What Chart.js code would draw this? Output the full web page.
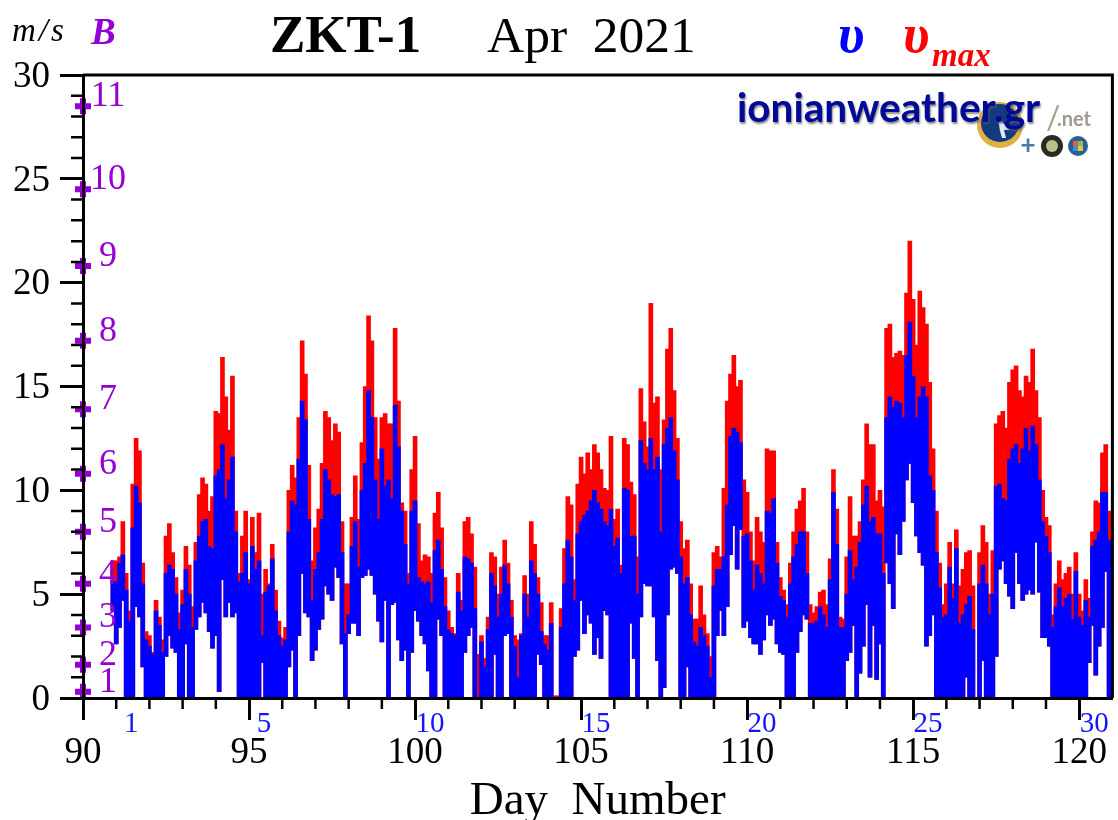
<!DOCTYPE html>
<html>
<head>
<meta charset="utf-8">
<title>ZKT-1 Apr 2021</title>
<script src="https://cdn.jsdelivr.net/npm/chart.js@4/dist/chart.umd.min.js"></script>
<style>
    html, body { margin: 0; padding: 0; background: #fff; }
    canvas { display: block; }
</style>
</head>
<body>
<canvas id="windChart" width="1118" height="820"></canvas>
<script>
// Samples are 0.1 day apart, first one at day 90.9. One row per day.
const firstDay = 90.9;
const sampleStep = 0.1;

// Highest gust in each sample (m/s)
const vmaxTop = [
    6.6,
    6.6, 6.8, 8.5, 6.0, 4.2, 10.3, 12.5, 11.9, 6.5, 3.2,
    3.0, 2.2, 4.7, 3.9, 2.8, 7.8, 8.4, 7.0, 5.8, 4.1,
    5.2, 7.3, 6.4, 4.4, 7.5, 9.8, 10.6, 10.3, 9.0, 9.7,
    13.8, 13.7, 16.4, 14.5, 12.9, 15.5, 9.0, 6.0, 7.8, 9.0,
    5.7, 8.7, 7.0, 8.9, 5.0, 6.2, 5.5, 7.4, 5.2, 3.7,
    2.9, 3.4, 10.0, 11.2, 10.6, 13.5, 17.2, 15.6, 11.2, 6.6,
    8.2, 9.1, 11.3, 13.8, 13.5, 12.4, 13.2, 12.8, 8.5, 5.5,
    5.5, 8.7, 10.7, 8.6, 12.3, 15.0, 18.4, 17.2, 13.5, 11.5,
    13.5, 13.7, 13.2, 13.2, 17.8, 14.3, 9.4, 9.0, 6.0, 11.0,
    12.6, 8.4, 6.6, 6.9, 6.8, 6.0, 8.9, 9.9, 8.2, 5.8,
    4.2, 3.4, 3.1, 6.0, 4.7, 8.5, 8.7, 7.9, 6.3, 2.1,
    3.0, 1.9, 3.9, 7.0, 6.8, 5.0, 6.3, 7.6, 6.5, 4.7,
    3.0, 2.8, 3.1, 5.9, 5.0, 8.5, 7.4, 5.8, 4.6, 3.0,
    3.0, 4.6, 0.1, 0.1, 4.3, 7.2, 9.7, 9.3, 5.7, 10.3,
    11.6, 10.8, 11.8, 11.0, 12.2, 11.8, 11.0, 10.1, 10.0, 12.6,
    8.6, 9.1, 6.4, 12.5, 12.2, 10.4, 9.8, 6.8, 14.9, 13.3,
    12.1, 19.0, 14.2, 14.5, 11.0, 13.4, 16.8, 17.8, 14.8, 12.5,
    8.5, 7.2, 7.6, 5.5, 3.8, 3.8, 5.4, 4.0, 3.1, 2.0,
    7.0, 7.3, 6.8, 10.1, 14.3, 15.6, 16.5, 15.0, 15.3, 10.5,
    9.9, 8.0, 6.6, 8.7, 8.0, 7.5, 12.0, 11.9, 11.9, 7.5,
    5.8, 5.2, 4.5, 6.5, 8.0, 9.1, 9.5, 10.1, 8.0, 4.5,
    4.1, 4.4, 5.1, 5.2, 4.5, 6.7, 11.0, 9.1, 3.9, 3.8,
    6.8, 9.7, 7.8, 7.8, 8.5, 10.5, 13.2, 12.2, 12.2, 9.5,
    10.0, 9.2, 17.8, 18.0, 16.4, 16.6, 16.7, 16.5, 19.5, 22.0,
    19.2, 17.0, 19.6, 18.8, 18.0, 15.2, 12.0, 9.0, 6.5, 4.5,
    5.5, 7.5, 5.5, 8.1, 5.4, 6.2, 7.0, 7.1, 5.4, 0,
    7.0, 8.3, 7.5, 5.0, 7.1, 13.2, 13.6, 13.8, 13.0, 15.2,
    15.8, 16.0, 14.8, 14.5, 15.5, 15.2, 16.8, 14.8, 13.5, 10.0,
    8.7, 8.3, 4.0, 5.5, 6.6, 5.7, 6.0, 6.3, 5.0, 7.0,
    5.0, 4.2, 5.7, 4.8, 8.0, 9.5, 9.4, 11.8, 12.2, 9.0,
    8.5
];

// Highest mean speed in each sample (m/s)
const vTop = [
    5.6,
    5.6, 6.5, 6.9, 5.2, 3.7, 8.2, 10.2, 9.4, 5.5, 2.8,
    2.5, 2.1, 4.2, 3.5, 2.2, 6.0, 6.4, 6.2, 5.0, 3.3,
    4.5, 6.2, 5.0, 3.4, 6.6, 7.8, 8.5, 8.6, 7.3, 7.2,
    10.7, 11.0, 12.2, 9.6, 10.5, 11.6, 8.0, 5.6, 6.0, 7.0,
    5.5, 7.3, 6.2, 6.6, 3.0, 5.1, 5.4, 6.7, 4.2, 3.0,
    2.5, 2.8, 8.0, 9.5, 9.3, 11.5, 14.3, 13.4, 8.6, 4.7,
    6.2, 7.0, 8.6, 11.0, 10.5, 9.8, 9.7, 9.8, 7.0, 3.1,
    4.0, 7.3, 8.5, 6.3, 10.0, 11.3, 14.8, 13.5, 10.5, 8.6,
    12.0, 10.2, 10.5, 9.6, 14.1, 12.1, 9.0, 7.4, 5.5, 9.0,
    9.5, 5.8, 5.6, 5.5, 5.6, 4.6, 7.1, 7.6, 6.2, 4.4,
    3.3, 3.1, 3.0, 5.1, 4.2, 6.8, 6.7, 6.5, 4.3, 0,
    2.7, 1.5, 3.3, 6.0, 5.4, 3.9, 5.0, 6.4, 5.5, 3.9,
    2.5, 1.0, 3.0, 5.0, 3.9, 6.6, 6.0, 5.0, 3.2, 2.6,
    2.3, 3.6, 0, 0, 3.4, 5.5, 7.6, 6.8, 4.7, 7.9,
    8.5, 8.8, 9.0, 9.5, 10.0, 9.4, 9.1, 8.5, 8.3, 9.1,
    7.3, 7.7, 6.0, 10.1, 10.0, 7.8, 7.8, 5.0, 12.4, 11.3,
    11.0, 12.5, 11.0, 11.6, 8.0, 12.2, 13.0, 13.5, 11.9, 10.5,
    6.8, 5.5, 5.8, 4.0, 2.7, 2.5, 3.4, 3.0, 2.5, 1.0,
    5.4, 6.2, 6.2, 6.8, 9.3, 12.6, 13.0, 12.8, 12.3, 7.8,
    7.9, 6.6, 5.2, 6.4, 6.0, 5.5, 9.0, 8.9, 9.6, 6.5,
    4.9, 4.7, 3.9, 5.5, 6.8, 7.4, 8.0, 8.0, 6.0, 3.6,
    3.6, 3.7, 4.4, 4.0, 3.4, 5.7, 9.9, 7.4, 3.4, 3.4,
    5.0, 7.1, 5.7, 6.3, 7.5, 9.3, 10.2, 8.5, 8.7, 7.9,
    7.9, 6.0, 13.5, 14.5, 14.0, 14.3, 14.2, 13.5, 16.5, 18.1,
    15.5, 13.5, 14.5, 15.0, 14.5, 10.7, 10.0, 7.0, 5.3, 3.9,
    4.0, 6.3, 4.8, 7.2, 3.6, 4.0, 4.5, 4.9, 3.3, 0,
    5.5, 6.4, 5.5, 4.0, 5.0, 10.2, 10.3, 9.6, 9.5, 11.5,
    12.0, 12.2, 11.3, 12.0, 13.0, 11.9, 13.1, 12.2, 10.5, 8.5,
    7.8, 7.0, 3.4, 4.4, 5.3, 4.4, 4.8, 5.0, 3.8, 6.1,
    3.9, 3.5, 4.7, 3.9, 7.3, 7.6, 8.0, 9.9, 9.9, 7.6,
    7.6
];

// Lowest mean speed in each sample (m/s)
const vLow = [
    4.2,
    2.6, 3.4, 4.7, 0, 0, 0, 4.4, 3.9, 1.5, 0,
    0, 0, 0, 0, 0, 2.0, 3.0, 2.4, 2.2, 0,
    0, 2.6, 0, 0, 3.3, 3.9, 4.6, 4.1, 3.2, 2.4,
    3.0, 0.3, 5.7, 3.9, 4.6, 3.9, 4.1, 0, 0, 0,
    0, 0, 0, 0, 1.7, 0, 0, 0, 0, 0,
    0, 0, 1.5, 2.3, 0, 3.0, 6.0, 4.1, 3.9, 1.8,
    2.3, 3.3, 3.8, 5.4, 5.0, 4.7, 6.3, 5.8, 2.6, 0,
    3.1, 3.6, 3.6, 3.0, 5.8, 5.9, 6.2, 5.9, 5.0, 3.7,
    2.7, 4.7, 0, 4.5, 4.6, 2.8, 1.8, 2.3, 0, 2.2,
    4.2, 3.7, 3.0, 2.6, 1.3, 0, 0, 3.8, 3.0, 0,
    0, 0, 0, 0, 0, 2.2, 3.0, 3.4, 0, 0,
    0, 0, 0, 0, 2.1, 0, 0, 3.0, 3.1, 0,
    0, 0, 0, 0, 0, 0, 0, 2.1, 1.6, 0,
    0, 0, 0, 0, 0, 0, 0, 0, 2.0, 2.3,
    4.7, 3.1, 4.0, 3.6, 2.1, 2.9, 1.9, 4.2, 4.0, 0,
    0, 0, 0, 0, 0, 3.6, 1.9, 0, 3.9, 5.5,
    5.4, 5.4, 3.9, 1.8, 0, 0.5, 4.0, 6.2, 6.3, 6.0,
    0, 0, 1.5, 0, 0, 0, 0, 0, 0, 0,
    0, 3.0, 4.2, 3.0, 4.4, 6.9, 8.3, 6.2, 8.1, 3.4,
    3.7, 2.9, 2.6, 2.6, 2.1, 2.8, 4.0, 3.5, 3.8, 2.6,
    2.2, 2.1, 0, 0, 0, 2.2, 3.2, 4.0, 3.8, 0,
    0, 0, 0, 0, 0, 0, 0, 0, 0, 0,
    1.8, 2.2, 3.5, 0, 1.2, 2.5, 4.5, 1.0, 3.5, 0.9,
    2.6, 0, 6.5, 5.5, 4.3, 7.9, 6.9, 8.5, 10.5, 11.3,
    9.4, 7.8, 7.0, 6.4, 2.5, 3.0, 4.0, 0, 0, 0,
    0, 0, 0, 0, 0, 0, 1.0, 0, 0, 0,
    0, 1.8, 0, 0, 0, 2.0, 6.2, 6.6, 5.5, 4.9,
    4.3, 7.0, 5.5, 4.7, 5.0, 5.2, 5.0, 7.5, 5.1, 2.9,
    2.9, 2.5, 0, 0, 0, 0, 0, 0, 0, 0,
    0, 0, 0, 1.7, 3.5, 1.1, 2.5, 3.4, 6.1, 0,
    0
];

// Beaufort scale marks on the left axis
const beaufortSpeeds = [0.3, 1.6, 3.4, 5.5, 8.0, 10.8, 13.9, 17.2, 20.8, 24.5, 28.5];
const beaufortLabels = ['1', '2', '3', '4', '5', '6', '7', '8', '9', '10', '11'];

// Day of April labels under the axis
const aprilDays = [1, 5, 10, 15, 20, 25, 30];
const aprilDayOffset = 90.45;

const sampleDays = vTop.map((v, i) => +(firstDay + i * sampleStep).toFixed(1));

const PURPLE = '#9400d3';
const SERIF = '"Liberation Serif", serif';

function drawText(ctx, text, x, y, font, color, align) {
    ctx.font = font;
    ctx.fillStyle = color;
    ctx.textAlign = align || 'left';
    ctx.textBaseline = 'alphabetic';
    ctx.fillText(text, x, y);
}

// Top right logo
function drawLogo(ctx) {
    ctx.save();
    // globe
    ctx.beginPath();
    ctx.arc(1000, 125, 23, 0, Math.PI * 2);
    ctx.fillStyle = '#e0b040';
    ctx.fill();
    ctx.beginPath();
    ctx.arc(1000, 123, 19, 0, Math.PI * 2);
    ctx.fillStyle = '#123a80';
    ctx.fill();
    ctx.beginPath();
    ctx.moveTo(998, 118);
    ctx.lineTo(1010, 130);
    ctx.lineTo(1004, 130);
    ctx.lineTo(1006, 138);
    ctx.lineTo(1002, 138);
    ctx.lineTo(1000, 131);
    ctx.closePath();
    ctx.fillStyle = '#dfe8f5';
    ctx.fill();

    ctx.shadowColor = 'rgba(90,90,90,0.7)';
    ctx.shadowOffsetX = 1;
    ctx.shadowOffsetY = 2;
    ctx.shadowBlur = 2;
    drawText(ctx, 'ionianweather.gr', 737, 122, 'bold 40.5px Lato, sans-serif', '#000a96');
    ctx.shadowColor = 'transparent';
    drawText(ctx, '/', 1046, 129, '32px Lato, sans-serif', '#a89f8c');
    drawText(ctx, '.net', 1057, 126, 'bold 20px Lato, sans-serif', '#a09a8c');
    drawText(ctx, '+', 1028, 154, 'bold 26px Lato, sans-serif', '#4a78a8', 'center');

    // two small badges
    ctx.beginPath();
    ctx.arc(1052, 146, 11, 0, Math.PI * 2);
    ctx.fillStyle = '#2b2b25';
    ctx.fill();
    ctx.beginPath();
    ctx.arc(1052, 146, 6, 0, Math.PI * 2);
    ctx.fillStyle = '#b5c48a';
    ctx.fill();
    ctx.beginPath();
    ctx.arc(1078, 146, 10, 0, Math.PI * 2);
    ctx.fillStyle = '#2a5f95';
    ctx.fill();
    [['#e0603a', -5, -5], ['#8fbf4a', 0, -5], ['#3f8fd8', -5, 0], ['#e8c43a', 0, 0]].forEach(q => {
        ctx.fillStyle = q[0];
        ctx.fillRect(1078 + q[1], 146 + q[2], 5, 5);
    });
    ctx.restore();
}

const decorPlugin = {
    id: 'decor',
    beforeDatasetsDraw(chart) {
        drawLogo(chart.ctx);
    },
    afterDraw(chart) {
        const { ctx, chartArea, scales } = chart;
        const { x, y } = scales;
        ctx.save();

        // frame, top and right
        ctx.strokeStyle = '#000';
        ctx.lineWidth = 3;
        ctx.beginPath();
        ctx.moveTo(chartArea.left, chartArea.top);
        ctx.lineTo(chartArea.right, chartArea.top);
        ctx.lineTo(chartArea.right, chartArea.bottom);
        ctx.stroke();

        // minor ticks, one per day and one per m/s
        ctx.lineWidth = 2.5;
        ctx.beginPath();
        for (let d = 91; d < 121; d++) {
            if (d % 5 === 0) continue;
            ctx.moveTo(x.getPixelForValue(d), chartArea.bottom);
            ctx.lineTo(x.getPixelForValue(d), chartArea.bottom + 11);
        }
        for (let v = 1; v < 30; v++) {
            if (v % 5 === 0) continue;
            ctx.moveTo(chartArea.left - 12, y.getPixelForValue(v));
            ctx.lineTo(chartArea.left, y.getPixelForValue(v));
        }
        ctx.stroke();

        // beaufort numbers sit on their tick
        beaufortSpeeds.forEach((speed, i) => {
            drawText(ctx, beaufortLabels[i], chartArea.left + 25, y.getPixelForValue(speed), '36px ' + SERIF, PURPLE, 'center');
        });
        aprilDays.forEach(day => {
            drawText(ctx, String(day), x.getPixelForValue(aprilDayOffset + day), chartArea.bottom + 34, '29px ' + SERIF, '#1414ff', 'center');
        });

        // header
        ctx.letterSpacing = '3px';
        drawText(ctx, 'm/s', 12, 41, 'italic 33px ' + SERIF, '#000');
        ctx.letterSpacing = '0px';
        drawText(ctx, 'B', 91, 44, 'italic bold 37px ' + SERIF, PURPLE);
        drawText(ctx, 'ZKT-1', 270, 52, 'bold 53px ' + SERIF, '#000');
        drawText(ctx, 'Apr  2021', 487, 52, '51.5px ' + SERIF, '#000');
        drawText(ctx, 'υ', 838, 52, 'italic bold 54px ' + SERIF, '#0000ff');
        drawText(ctx, 'υ', 903, 52, 'italic bold 54px ' + SERIF, '#ff0000');
        drawText(ctx, 'max', 932, 66, 'italic bold 33px ' + SERIF, '#ff0000');
        ctx.restore();
    }
};

new Chart(document.getElementById('windChart'), {
    type: 'bar',
    data: {
        datasets: [
            {
                type: 'scatter',
                label: 'B',
                data: beaufortSpeeds.map(v => ({ x: 90, y: v })),
                pointStyle: 'cross',
                pointRadius: 8,
                pointBorderWidth: 6,
                pointBorderColor: PURPLE,
                borderColor: PURPLE,
                clip: false,
                order: -1
            },
            {
                label: 'v',
                data: sampleDays.map((d, i) => ({ x: d, y: [vLow[i], vTop[i]] })),
                backgroundColor: '#0000ff',
                barThickness: 4,
                grouped: false,
                order: 1
            },
            {
                label: 'vmax',
                data: sampleDays.map((d, i) => ({ x: d, y: [vLow[i], vmaxTop[i]] })),
                backgroundColor: '#ff0000',
                barThickness: 4,
                grouped: false,
                order: 2
            }
        ]
    },
    options: {
        responsive: false,
        animation: false,
        events: [],
        layout: { autoPadding: false, padding: { top: 75, right: 2, left: 0, bottom: 0 } },
        plugins: {
            legend: { display: false },
            tooltip: { enabled: false },
            title: { display: false }
        },
        scales: {
            x: {
                type: 'linear',
                min: 90,
                max: 121,
                offset: false,
                afterFit: s => { s.height = 122; },
                border: { color: '#000', width: 3, z: 2 },
                grid: { offset: false, drawOnChartArea: false, color: '#000', tickLength: 22, tickWidth: 3, z: 2 },
                ticks: {
                    stepSize: 5,
                    includeBounds: false,
                    autoSkip: false,
                    maxRotation: 0,
                    padding: 11,
                    color: '#000',
                    font: { family: SERIF, size: 37 }
                },
                title: {
                    display: true,
                    text: 'Day  Number',
                    color: '#000',
                    font: { family: SERIF, size: 47 },
                    padding: { top: 0, bottom: -10 }
                }
            },
            y: {
                min: 0,
                max: 30,
                afterFit: s => { s.width = 83; },
                border: { color: '#000', width: 3, z: 2 },
                grid: { drawOnChartArea: false, color: '#000', tickLength: 23, tickWidth: 3, z: 2 },
                ticks: {
                    stepSize: 5,
                    padding: 10,
                    labelOffset: 2,
                    color: '#000',
                    font: { family: SERIF, size: 37 }
                }
            }
        }
    },
    plugins: [decorPlugin]
});
</script>
</body>
</html>
